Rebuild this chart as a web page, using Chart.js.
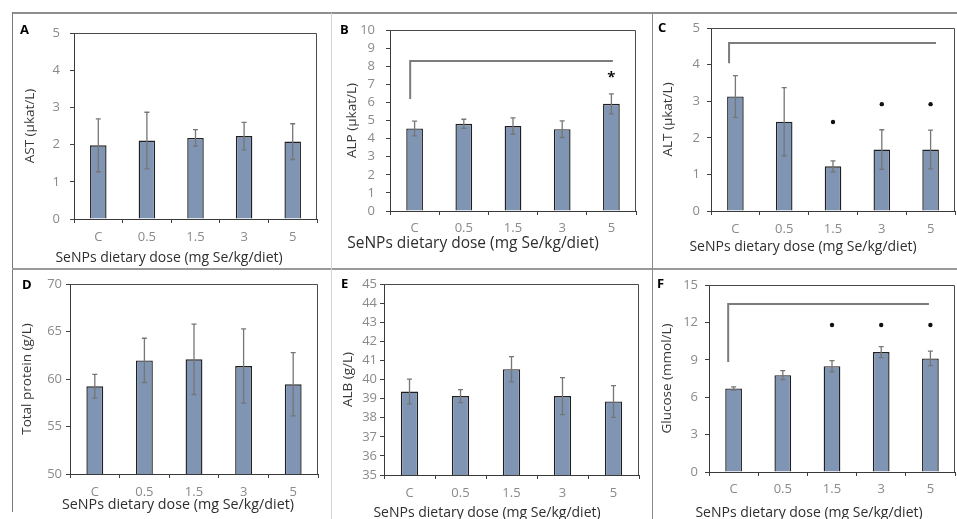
<!DOCTYPE html>
<html><head><meta charset="utf-8">
<script src="https://cdn.jsdelivr.net/npm/chart.js@4.4.0/dist/chart.umd.min.js"></script>
<style>
html,body{margin:0;padding:0;background:#fff;}
#wrap{position:relative;width:957px;height:519px;overflow:hidden;background:#fff;}
#wrap canvas{position:absolute;left:0;top:0;}
.ln{position:absolute;}
</style></head><body>
<div id="wrap">
<div class="ln" style="left:12px;top:12px;width:945px;height:2px;background:#8e8e8e"></div>
<div class="ln" style="left:12px;top:12px;width:1px;height:500px;background:#7a7a7a"></div>
<div class="ln" style="left:12px;top:268px;width:945px;height:2px;background:#9a9a9a"></div>
<div class="ln" style="left:331px;top:13px;width:1px;height:506px;background:#d4d4d4"></div>
<div class="ln" style="left:652px;top:13px;width:1px;height:506px;background:#8a8a8a"></div>
</div>
<script>
const categories = ['C', '0.5', '1.5', '3', '5'];
const xTitle = 'SeNPs dietary dose (mg Se/kg/diet)';

const astMean = [1.98, 2.11, 2.18, 2.23, 2.08];
const astSD   = [0.71, 0.76, 0.22, 0.37, 0.48];
const astTicks = [0, 1, 2, 3, 4, 5];

const alpMean = [4.56, 4.82, 4.69, 4.52, 5.92];
const alpSD   = [0.41, 0.25, 0.45, 0.46, 0.55];
const alpTicks = [0, 1, 2, 3, 4, 5, 6, 7, 8, 9, 10];
const alpStar = [null, null, null, null, 7.5];
const alpBracket = [8.29, 6.19];

const altMean = [3.13, 2.44, 1.22, 1.68, 1.68];
const altSD   = [0.57, 0.93, 0.15, 0.54, 0.53];
const altTicks = [0, 1, 2, 3, 4, 5];
const altStar = [null, null, 2.43, 2.92, 2.92];
const altBracket = [4.59, 4.04];

const tpMean = [59.23, 61.96, 62.07, 61.37, 59.44];
const tpSD   = [1.25, 2.33, 3.70, 3.90, 3.33];
const tpTicks = [50, 55, 60, 65, 70];

const albMean = [39.37, 39.13, 40.54, 39.13, 38.85];
const albSD   = [0.65, 0.34, 0.66, 0.97, 0.83];
const albTicks = [35, 36, 37, 38, 39, 40, 41, 42, 43, 44, 45];

const gluMean = [6.70, 7.77, 8.49, 9.62, 9.11];
const gluSD   = [0.13, 0.36, 0.45, 0.44, 0.58];
const gluTicks = [0, 3, 6, 9, 12, 15];
const gluStar = [null, null, 11.79, 11.79, 11.79];
const gluBracket = [13.47, 8.82];

const FAM = "'Open Sans', 'DejaVu Sans', sans-serif";
const W = 957, H = 519;
const YT_FS = 13.5, YT_LH = YT_FS * 1.2;
const TICK_FS = 13, TICK_LH = TICK_FS * 1.2;

const panels = [
  {label:'A', mean:astMean, sd:astSD, ticks:astTicks, yTitle:'AST (µkat/L)',
   plot:[74,33,317,219], yTitleX:30, xTitlePos:[169,258], xTitleFs:14, xTickY:237, yTickPad:10, labelPos:[20,30]},
  {label:'B', mean:alpMean, sd:alpSD, ticks:alpTicks, yTitle:'ALP (µkat/L)',
   plot:[390,30,636,211], yTitleX:352, xTitlePos:[473,244], xTitleFs:15.5, xTickY:228, yTickPad:11, labelPos:[340,30],
   star:alpStar, starType:'ast', bracket:alpBracket, bracketX:[-0.09,4.03]},
  {label:'C', mean:altMean, sd:altSD, ticks:altTicks, yTitle:'ALT (µkat/L)',
   plot:[711,28,955,211], yTitleX:668, xTitlePos:[803,247], xTitleFs:14, xTickY:229, yTickPad:7, labelPos:[658,28],
   star:altStar, starType:'dot', bracket:altBracket, bracketX:[-0.13,4.11]},
  {label:'D', mean:tpMean, sd:tpSD, ticks:tpTicks, yTitle:'Total protein (g/L)',
   plot:[70,284,318,474], yTitleX:27, xTitlePos:[178,505], xTitleFs:14.3, xTickY:492, yTickPad:4, labelPos:[22,285]},
  {label:'E', mean:albMean, sd:albSD, ticks:albTicks, yTitle:'ALB (g/L)',
   plot:[384,284,639,475], yTitleX:348, xTitlePos:[487,513], xTitleFs:14, xTickY:493, yTickPad:3, labelPos:[341,284]},
  {label:'F', mean:gluMean, sd:gluSD, ticks:gluTicks, yTitle:'Glucose (mmol/L)',
   plot:[709,285,955,472], yTitleX:667, xTitlePos:[809,513], xTitleFs:14, xTickY:489, yTickPad:7, labelPos:[657,284],
   star:gluStar, starType:'dot', bracket:gluBracket, bracketX:[-0.11,3.97]}
];

const wrap = document.getElementById('wrap');

panels.forEach(p => {
  const cv = document.createElement('canvas');
  cv.width = W; cv.height = H;
  cv.style.width = W + 'px'; cv.style.height = H + 'px';
  wrap.appendChild(cv);
  const [pl, pt, pr, pb] = p.plot;
  const padL = p.yTitleX - YT_LH / 2;
  const yW = pl - padL;
  const xH = H - pb;
  const xTickPad = p.xTickY - pb - 4 - TICK_LH / 2;

  const deco = {
    id: 'deco' + p.label,
    beforeDatasetsDraw(chart) {
      const ctx = chart.ctx, a = chart.chartArea;
      ctx.save();
      ctx.strokeStyle = '#4a4a4a';
      ctx.lineWidth = 1;
      ctx.beginPath();
      ctx.moveTo(a.left, a.top + 0.5);
      ctx.lineTo(a.right - 0.5, a.top + 0.5);
      ctx.lineTo(a.right - 0.5, a.bottom);
      ctx.stroke();
      ctx.restore();
    },
    afterDatasetsDraw(chart) {
      const ctx = chart.ctx;
      const meta = chart.getDatasetMeta(0);
      const ys = chart.scales.y, xs = chart.scales.x;
      ctx.save();
      ctx.strokeStyle = '#767676';
      ctx.lineWidth = 1.3;
      meta.data.forEach((el, i) => {
        const x = el.x;
        const yt = ys.getPixelForValue(p.mean[i] + p.sd[i]);
        const yb = ys.getPixelForValue(p.mean[i] - p.sd[i]);
        ctx.beginPath();
        ctx.moveTo(x, yt); ctx.lineTo(x, yb);
        ctx.moveTo(x - 2.5, yt); ctx.lineTo(x + 2.5, yt);
        ctx.moveTo(x - 2.5, yb); ctx.lineTo(x + 2.5, yb);
        ctx.stroke();
      });
      if (p.bracket) {
        const x0 = xs.getPixelForValue(p.bracketX[0]);
        const x1 = xs.getPixelForValue(p.bracketX[1]);
        const yh = ys.getPixelForValue(p.bracket[0]);
        const yv = ys.getPixelForValue(p.bracket[1]);
        ctx.strokeStyle = '#7c7c7c';
        ctx.lineWidth = 2;
        ctx.beginPath();
        ctx.moveTo(x0, yv); ctx.lineTo(x0, yh); ctx.lineTo(x1, yh);
        ctx.stroke();
      }
      if (p.star) {
        ctx.fillStyle = '#111';
        p.star.forEach((v, i) => {
          if (v === null) return;
          const x = xs.getPixelForValue(i);
          const y = ys.getPixelForValue(v);
          if (p.starType === 'ast') {
            ctx.font = 'bold 15px ' + FAM;
            ctx.textAlign = 'center';
            ctx.textBaseline = 'middle';
            ctx.fillText('*', x, y + 2);
          } else {
            ctx.beginPath();
            ctx.arc(x, y, 2.2, 0, Math.PI * 2);
            ctx.fill();
          }
        });
      }
      ctx.fillStyle = '#000';
      ctx.font = 'bold 13px ' + FAM;
      ctx.textAlign = 'left';
      ctx.textBaseline = 'middle';
      ctx.fillText(p.label, p.labelPos[0], p.labelPos[1]);
      ctx.fillStyle = '#2e2e2e';
      ctx.font = p.xTitleFs + 'px ' + FAM;
      ctx.textAlign = 'center';
      ctx.fillText(xTitle, p.xTitlePos[0], p.xTitlePos[1]);
      ctx.restore();
    }
  };

  new Chart(cv, {
    type: 'bar',
    data: {
      labels: categories,
      datasets: [{
        data: p.mean,
        backgroundColor: '#7f95b3',
        borderColor: '#202020',
        borderWidth: 1.4,
        barPercentage: 0.34,
        categoryPercentage: 1
      }]
    },
    options: {
      responsive: false,
      animation: false,
      devicePixelRatio: 1,
      layout: { padding: { left: padL, top: pt, right: W - pr, bottom: 0 } },
      plugins: { legend: { display: false }, tooltip: { enabled: false } },
      scales: {
        x: {
          offset: true,
          grid: { display: true, drawOnChartArea: false, drawTicks: true, tickLength: 4, color: '#404040', offset: true },
          border: { display: true, color: '#3a3a3a', width: 1 },
          ticks: { color: '#8a8a8a', font: { size: TICK_FS, family: FAM }, padding: xTickPad, maxRotation: 0, autoSkip: false },
          title: { display: false },
          afterFit(s) { s.height = xH; }
        },
        y: {
          min: p.ticks[0],
          max: p.ticks[p.ticks.length - 1],
          ticks: { stepSize: p.ticks[1] - p.ticks[0], autoSkip: false, color: '#8a8a8a', font: { size: TICK_FS, family: FAM }, padding: p.yTickPad },
          grid: { display: true, drawOnChartArea: false, drawTicks: true, tickLength: 4, color: '#404040' },
          border: { display: true, color: '#3a3a3a', width: 1 },
          title: { display: true, text: p.yTitle, color: '#383838', font: { size: YT_FS, family: FAM }, padding: 0 },
          afterFit(s) { s.width = yW; }
        }
      }
    },
    plugins: [deco]
  });
});
</script>
</body></html>
